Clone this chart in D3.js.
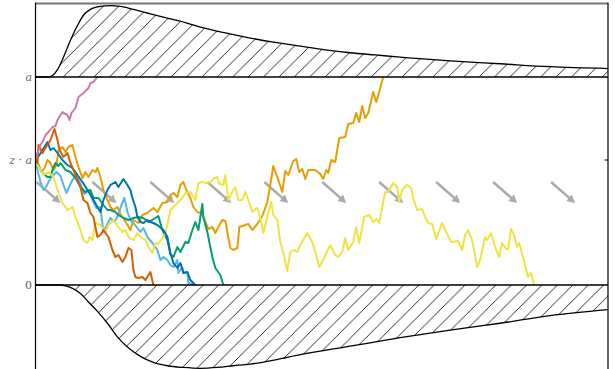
<!DOCTYPE html>
<html>
<head>
<meta charset="utf-8">
<script src="https://cdn.jsdelivr.net/npm/d3@7"></script>
<style>
  html, body { margin: 0; padding: 0; background: #fff; overflow: hidden; }
  svg { display: block; }
</style>
</head>
<body>
<svg id="chart" width="615" height="369"></svg>
<script>
// ---- Drift-diffusion model: sample paths between two bounds ----
const timeDomain = [0, 573];          // time (ms)
const evidenceDomain = [0, 208];      // evidence units, upper bound a = 208
const boundaryTicks = [
  { value: 208, parts: [["a", true]] },
  { value: 125, parts: [["z", true], [" · ", false], ["a", true]] },
  { value: 0,   parts: [["0", false]] }
];
const startTick = 125;                // z·a

// First-passage time densities
const upperTimes   = [0, 13, 17, 22, 28, 35, 42, 48, 55, 65, 75, 85, 98, 115, 132, 150, 165, 190, 215, 240, 265, 290, 315, 340, 365, 415, 465, 515, 573];
const upperDensity = [0, 0, 0.02, 0.1, 0.27, 0.5, 0.7, 0.84, 0.92, 0.96, 0.97, 0.96, 0.92, 0.86, 0.8, 0.74, 0.68, 0.6, 0.53, 0.47, 0.42, 0.37, 0.33, 0.3, 0.27, 0.22, 0.18, 0.14, 0.115];
const lowerTimes   = [0, 25, 30, 37, 45, 53, 62, 72, 82, 92, 105, 118, 132, 148, 165, 182, 198, 215, 240, 265, 315, 365, 415, 465, 515, 573];
const lowerDensity = [0, 0, 0.01, 0.04, 0.1, 0.2, 0.31, 0.45, 0.61, 0.73, 0.84, 0.91, 0.95, 0.97, 0.98, 0.97, 0.95, 0.93, 0.88, 0.82, 0.72, 0.62, 0.53, 0.45, 0.36, 0.29];

// Drift arrows
const driftArrowTimes = [1, 57, 115, 172, 229, 287, 344, 401, 458, 516];
const driftArrowFrom = 103;
const driftArrowTo = 82;
const driftArrowSpan = 24;

// Sample paths [time, evidence]
const walkPink = [[0,125],[2,132],[5,140],[8,145],[10,150],[13,153],[17,158],[20,159],[22,165],[25,170],[27,173],[28,172],[32,170],[34,165],[36,172],[40,177],[43,188],[48,192],[53,197],[55,202],[58,203],[62,208],[67,208]];
const walkVermillion = [[0,125],[2,122],[3,140],[7,132],[10,137],[15,145],[19,156],[22,145],[24,135],[28,128],[32,132],[35,122],[38,115],[42,105],[45,98],[48,85],[52,82],[55,72],[58,68],[60,58],[62,48],[65,50],[68,55],[73,48],[77,35],[80,28],[83,30],[87,23],[90,28],[93,37],[96,35],[98,15],[100,8],[103,7],[107,8],[110,5],[115,13],[118,0]];
const walkBlue = [[0,125],[4,130],[7,135],[12,143],[15,135],[18,137],[22,132],[27,125],[32,120],[37,117],[42,110],[47,103],[52,95],[57,87],[62,78],[65,73],[68,85],[72,95],[75,100],[80,103],[83,98],[88,106],[92,100],[95,95],[97,87],[100,78],[102,68],[105,63],[108,62],[112,65],[115,63],[118,62],[122,60],[128,55],[132,48],[135,32],[138,22],[142,17],[145,22],[148,12],[152,13],[155,5],[160,0]];
const walkSkyBlue = [[0,125],[2,115],[5,103],[8,95],[11,99],[14,105],[17,109],[21,113],[25,109],[28,100],[31,92],[34,99],[37,105],[41,109],[45,101],[49,91],[53,95],[57,85],[61,77],[65,78],[68,53],[71,59],[75,67],[79,63],[83,70],[86,80],[89,87],[92,73],[95,65],[98,62],[102,57],[105,53],[108,57],[112,48],[117,42],[122,35],[125,25],[128,28],[132,25],[135,20],[138,18],[142,25],[143,12],[147,18],[148,12],[152,13],[153,2],[158,0]];
const walkGreen = [[0,125],[3,120],[5,115],[8,111],[12,108],[15,108],[17,115],[20,122],[23,119],[25,122],[30,115],[35,113],[40,107],[45,98],[50,93],[55,95],[58,87],[63,87],[68,80],[72,75],[75,75],[80,73],[83,70],[88,67],[93,65],[98,67],[103,68],[108,67],[113,63],[117,65],[120,67],[123,69],[127,55],[132,45],[135,31],[138,28],[142,38],[145,33],[150,43],[153,42],[157,55],[160,63],[163,55],[167,81],[168,68],[172,53],[177,28],[180,17],[185,10],[188,0]];
const walkOrange = [[0,125],[3,120],[6,113],[9,117],[12,125],[15,122],[18,115],[21,120],[23,135],[27,138],[30,133],[33,138],[37,140],[40,128],[43,118],[47,107],[50,113],[53,108],[57,115],[60,113],[62,117],[65,108],[68,95],[72,85],[75,78],[78,75],[82,78],[85,71],[88,67],[92,60],[95,55],[98,65],[103,62],[107,70],[112,72],[118,77],[122,73],[127,82],[132,83],[135,90],[138,92],[142,88],[145,100],[148,103],[151,95],[155,87],[158,78],[162,73],[165,72],[168,68],[173,56],[177,58],[180,52],[183,58],[187,65],[190,64],[195,37],[198,35],[202,37],[204,58],[210,60],[213,61],[217,55],[222,61],[227,69],[232,83],[235,100],[238,119],[242,108],[247,93],[250,114],[253,110],[258,124],[261,126],[264,113],[267,116],[270,106],[273,115],[280,115],[285,111],[288,106],[291,115],[293,112],[296,125],[300,123],[304,147],[310,148],[313,161],[318,162],[321,172],[324,163],[327,179],[330,167],[333,172],[338,193],[341,183],[344,193],[348,208]];
const walkYellow = [[0,125],[1,122],[5,115],[8,110],[13,113],[18,108],[23,92],[27,82],[32,75],[37,78],[40,68],[45,55],[48,45],[52,42],[54,48],[57,45],[60,62],[65,60],[70,53],[73,60],[78,65],[83,58],[87,53],[90,55],[93,48],[98,45],[102,52],[105,48],[110,45],[113,38],[117,32],[120,42],[123,41],[127,47],[130,52],[133,65],[135,75],[138,78],[142,82],[147,87],[150,92],[155,93],[157,90],[160,85],[163,102],[167,103],[171,102],[175,103],[179,107],[182,108],[184,101],[188,100],[190,110],[193,85],[197,93],[200,98],[203,85],[207,85],[210,93],[213,85],[217,73],[222,77],[225,67],[228,52],[232,68],[236,83],[238,70],[242,65],[245,43],[248,32],[252,14],[255,33],[258,35],[262,33],[265,40],[272,52],[277,43],[280,33],[284,18],[288,25],[291,32],[295,40],[300,30],[303,28],[307,33],[310,47],[313,35],[318,43],[321,58],[324,42],[329,68],[334,70],[338,63],[341,66],[344,62],[350,93],[353,93],[358,102],[362,98],[364,83],[367,95],[372,100],[376,97],[378,87],[382,75],[387,76],[390,68],[393,62],[397,61],[401,46],[407,62],[410,55],[416,43],[423,44],[427,35],[430,50],[433,55],[437,45],[442,18],[445,25],[450,48],[452,45],[456,52],[460,38],[464,28],[467,42],[471,36],[473,36],[476,56],[479,50],[482,38],[484,42],[488,28],[493,8],[496,12],[499,0]];

const walks = [
  { data: walkOrange,     color: "#E69F00" },
  { data: walkSkyBlue,    color: "#56B4E9" },
  { data: walkGreen,      color: "#009E73" },
  { data: walkYellow,     color: "#F0E442" },
  { data: walkBlue,       color: "#0072B2" },
  { data: walkVermillion, color: "#D55E00" },
  { data: walkPink,       color: "#CC79A7" }
];

// ---- layout ----
const svg = d3.select("#chart");
const left = 35.5, right = 608;
const topY = 3.5, upperY = 77, lowerY = 285, bottomY = 370;

const x = d3.scaleLinear().domain(timeDomain).range([left, right]);
const y = d3.scaleLinear().domain(evidenceDomain).range([lowerY, upperY]);
const yUp = d3.scaleLinear().domain([0, 1]).range([upperY, topY]);
const yDown = d3.scaleLinear().domain([0, 1]).range([lowerY, bottomY]);

// hatch patterns
const defs = svg.append("defs");
function hatch(id, offset) {
  const P = 15.4;
  const p = defs.append("pattern").attr("id", id)
    .attr("patternUnits", "userSpaceOnUse")
    .attr("width", P).attr("height", P)
    .attr("x", offset).attr("y", 0);
  const segs = [[0, P, P, 0], [-1, 1, 1, -1], [P - 1, P + 1, P + 1, P - 1]];
  segs.forEach(s => p.append("line")
    .attr("x1", s[0]).attr("y1", s[1]).attr("x2", s[2]).attr("y2", s[3])
    .attr("stroke", "#222").attr("stroke-width", 0.95));
}
hatch("hatchUp", 1.7);
hatch("hatchDown", 10.8);

svg.append("clipPath").attr("id", "mid").append("rect")
  .attr("x", left).attr("y", upperY).attr("width", right - left).attr("height", lowerY - upperY);

// upper density
const upData = upperTimes.map((t, i) => [t, upperDensity[i]]);
svg.append("path").datum(upData)
  .attr("d", d3.area().x(d => x(d[0])).y0(upperY).y1(d => yUp(d[1])).curve(d3.curveMonotoneX))
  .attr("fill", "url(#hatchUp)");
svg.append("path").datum(upData)
  .attr("d", d3.line().x(d => x(d[0])).y(d => yUp(d[1])).curve(d3.curveMonotoneX))
  .attr("fill", "none").attr("stroke", "#000").attr("stroke-width", 1.3);

// lower density
const downData = lowerTimes.map((t, i) => [t, lowerDensity[i]]);
svg.append("path").datum(downData)
  .attr("d", d3.area().x(d => x(d[0])).y0(lowerY).y1(d => yDown(d[1])).curve(d3.curveMonotoneX))
  .attr("fill", "url(#hatchDown)");
svg.append("path").datum(downData)
  .attr("d", d3.line().x(d => x(d[0])).y(d => yDown(d[1])).curve(d3.curveMonotoneX))
  .attr("fill", "none").attr("stroke", "#000").attr("stroke-width", 1.3);

// drift arrows
const arrowColor = "#ababab";
const arrows = svg.append("g");
driftArrowTimes.forEach(t => {
  const x0 = x(t), y0 = y(driftArrowFrom);
  const x1 = x(t + driftArrowSpan), y1 = y(driftArrowTo);
  const dx = x1 - x0, dy = y1 - y0, len = Math.hypot(dx, dy);
  const ux = dx / len, uy = dy / len;
  const hl = 8, hw = 4.2;
  const bx = x1 - ux * hl, by = y1 - uy * hl;
  arrows.append("line").attr("x1", x0).attr("y1", y0).attr("x2", bx + ux).attr("y2", by + uy)
    .attr("stroke", arrowColor).attr("stroke-width", 2.6);
  arrows.append("path")
    .attr("d", `M${x1},${y1}L${bx - uy * hw},${by + ux * hw}L${bx + uy * hw},${by - ux * hw}Z`)
    .attr("fill", arrowColor);
});

// sample paths
const walkLine = d3.line().x(d => x(d[0])).y(d => y(d[1]));
const walkG = svg.append("g").attr("clip-path", "url(#mid)");
walks.forEach(w => {
  walkG.append("path").datum(w.data).attr("d", walkLine)
    .attr("fill", "none").attr("stroke", w.color).attr("stroke-width", 2)
    .attr("stroke-linejoin", "round");
});

// bounds and frame
const frame = svg.append("g");
[evidenceDomain[1], evidenceDomain[0]].forEach(v => {
  frame.append("line").attr("x1", left).attr("x2", right).attr("y1", y(v)).attr("y2", y(v))
    .attr("stroke", "#000").attr("stroke-width", 1.5);
});
frame.append("line").attr("x1", left).attr("x2", right).attr("y1", topY).attr("y2", topY)
  .attr("stroke", "#777").attr("stroke-width", 1.8);
frame.append("line").attr("x1", left).attr("x2", left).attr("y1", topY - 1).attr("y2", 369)
  .attr("stroke", "#000").attr("stroke-width", 1.2);
frame.append("line").attr("x1", right).attr("x2", right).attr("y1", topY - 1).attr("y2", 369)
  .attr("stroke", "#000").attr("stroke-width", 1.2);
frame.append("line").attr("x1", right - 3.5).attr("x2", right).attr("y1", y(startTick)).attr("y2", y(startTick))
  .attr("stroke", "#000").attr("stroke-width", 1);

// bound labels
const labels = svg.append("g")
  .attr("font-family", "'DejaVu Serif', 'Liberation Serif', serif")
  .attr("font-size", 11).attr("fill", "#666");
boundaryTicks.forEach(tk => {
  const txt = labels.append("text").attr("x", 32).attr("y", y(tk.value))
    .attr("text-anchor", "end").attr("dominant-baseline", "central");
  tk.parts.forEach(([s, it]) => txt.append("tspan").text(s)
    .attr("font-style", it ? "italic" : "normal"));
});
</script>
</body>
</html>
